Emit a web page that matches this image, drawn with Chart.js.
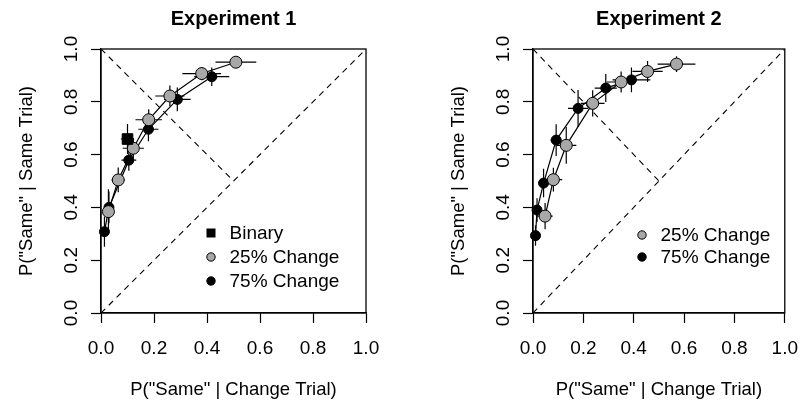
<!DOCTYPE html>
<html>
<head>
<meta charset="utf-8">
<script src="https://cdn.jsdelivr.net/npm/chart.js@4.4.1/dist/chart.umd.min.js"></script>
<style>
  html, body { margin: 0; padding: 0; background: #fff; }
  #wrap { position: relative; width: 812px; height: 408px; }
  canvas { position: absolute; top: 0; }
</style>
</head>
<body>
<div id="wrap">
  <canvas id="exp1" width="406" height="408" style="left:0"></canvas>
  <canvas id="exp2" width="406" height="408" style="left:406px"></canvas>
</div>
<script>
const tickVals = [0, 0.2, 0.4, 0.6, 0.8, 1.0];
const xTitle = 'P("Same" | Change Trial)';
const yTitle = 'P("Same" | Same Trial)';
const titles = ['Experiment 1', 'Experiment 2'];
const names = ['Binary', '25% Change', '75% Change'];

// Experiment 1
const e1BinX = [0.100];
const e1BinY = [0.659];
const e1BinXe = [0.025];
const e1BinYe = [0.057];

const e1C25X = [0.028, 0.065, 0.122, 0.180, 0.260, 0.380, 0.509];
const e1C25Y = [0.384, 0.504, 0.624, 0.732, 0.822, 0.907, 0.950];
const e1C25Xe = [0.017, 0.025, 0.040, 0.050, 0.055, 0.073, 0.077];
const e1C25Ye = [0.085, 0.047, 0.038, 0.040, 0.040, 0.025, 0.015];

const e1C75X = [0.013, 0.030, 0.105, 0.179, 0.288, 0.418];
const e1C75Y = [0.308, 0.400, 0.579, 0.696, 0.809, 0.895];
const e1C75Xe = [0.010, 0.015, 0.028, 0.038, 0.050, 0.066];
const e1C75Ye = [0.057, 0.060, 0.040, 0.045, 0.045, 0.035];

// Experiment 2
const e2C25X = [0.048, 0.081, 0.132, 0.237, 0.350, 0.455, 0.570];
const e2C25Y = [0.367, 0.505, 0.635, 0.794, 0.875, 0.915, 0.943];
const e2C25Xe = [0.030, 0.035, 0.040, 0.047, 0.057, 0.060, 0.075];
const e2C25Ye = [0.050, 0.045, 0.070, 0.050, 0.040, 0.040, 0.030];

const e2C75X = [0.010, 0.016, 0.042, 0.092, 0.179, 0.289, 0.391];
const e2C75Y = [0.293, 0.390, 0.492, 0.655, 0.775, 0.852, 0.883];
const e2C75Xe = [0.010, 0.015, 0.016, 0.022, 0.040, 0.044, 0.075];
const e2C75Ye = [0.038, 0.045, 0.054, 0.060, 0.070, 0.053, 0.047];

// reference lines
const diagUp = [[0, 0], [1, 1]];
const diagDown = [[0, 1], [0.5, 0.5]];

const FONT = '"Liberation Sans", Arial, Helvetica, sans-serif';
const GRAY = '#a8a8a8';

function pts(xs, ys) {
  return xs.map((x, i) => ({ x: x, y: ys[i] }));
}

function series(label, xs, ys, xe, ye, kind) {
  const ds = {
    label: label,
    data: pts(xs, ys),
    errX: xe, errY: ye,
    kind: kind,
    showLine: xs.length > 1,
    borderColor: '#000',
    borderWidth: 1.2,
    pointBorderColor: '#000',
    pointBorderWidth: 1,
    clip: false
  };
  if (kind === 'rect') {
    ds.pointStyle = 'rect'; ds.pointRadius = 7.5; ds.pointBackgroundColor = '#000';
  } else if (kind === 'gray') {
    ds.pointStyle = 'circle'; ds.pointRadius = 6; ds.pointBackgroundColor = GRAY;
  } else {
    ds.pointStyle = 'circle'; ds.pointRadius = 5; ds.pointBackgroundColor = '#000';
  }
  ds.pointHoverRadius = ds.pointRadius;
  return ds;
}

function refLine(p) {
  return {
    data: p.map(q => ({ x: q[0], y: q[1] })),
    showLine: true, pointRadius: 0, borderColor: '#000', borderWidth: 1.1,
    borderDash: [6, 5], ref: true
  };
}

const framePlugin = {
  id: 'frame',
  beforeDatasetsDraw(chart) {
    const { ctx, chartArea: a } = chart;
    ctx.save();
    ctx.strokeStyle = '#000';
    ctx.lineWidth = 1.3;
    ctx.strokeRect(a.left, a.top, a.right - a.left, a.bottom - a.top);
    ctx.restore();
  }
};

const errPlugin = {
  id: 'errBars',
  beforeDatasetsDraw(chart) {
    const { ctx, scales: { x, y } } = chart;
    ctx.save();
    ctx.strokeStyle = '#000';
    ctx.lineWidth = 1.2;
    chart.data.datasets.forEach(ds => {
      if (!ds.errX) return;
      ds.data.forEach((p, i) => {
        const px = x.getPixelForValue(p.x), py = y.getPixelForValue(p.y);
        ctx.beginPath();
        ctx.moveTo(x.getPixelForValue(p.x - ds.errX[i]), py);
        ctx.lineTo(x.getPixelForValue(p.x + ds.errX[i]), py);
        ctx.moveTo(px, y.getPixelForValue(p.y - ds.errY[i]));
        ctx.lineTo(px, y.getPixelForValue(p.y + ds.errY[i]));
        ctx.stroke();
      });
    });
    ctx.restore();
  }
};

const legendPlugin = {
  id: 'boxLegend',
  afterDraw(chart, args, opts) {
    const { ctx, chartArea: a } = chart;
    const items = chart.data.datasets.filter(d => d.label);
    ctx.save();
    ctx.font = '19px ' + FONT;
    ctx.textBaseline = 'middle';
    ctx.fillStyle = '#000';
    items.forEach((d, i) => {
      const mx = a.left + opts.dx, my = a.top + opts.dy + i * opts.gap;
      ctx.beginPath();
      if (d.kind === 'rect') {
        ctx.fillStyle = '#000';
        ctx.fillRect(mx - 4.5, my - 4.5, 9, 9);
      } else {
        ctx.arc(mx, my, 4.2, 0, Math.PI * 2);
        ctx.fillStyle = d.kind === 'gray' ? GRAY : '#000';
        ctx.fill();
        ctx.lineWidth = 1;
        ctx.strokeStyle = '#000';
        ctx.stroke();
      }
      ctx.fillStyle = '#000';
      ctx.fillText(d.label, mx + 18.5, my + 1);
    });
    ctx.restore();
  }
};

function axis(isX) {
  const ax = {
    type: 'linear', min: 0, max: 1,
    afterBuildTicks: s => { s.ticks = tickVals.map(v => ({ value: v })); },
    grid: { drawOnChartArea: false, drawTicks: true, tickLength: 10, tickColor: '#000', tickWidth: 1.2 },
    border: { display: true, color: '#000', width: 1.3 },
    ticks: {
      color: '#000', font: { family: FONT, size: 19 },
      callback: v => v.toFixed(1)
    },
    title: { display: true, text: isX ? xTitle : yTitle, color: '#000', font: { family: FONT, size: 18.5 } }
  };
  if (isX) {
    ax.afterFit = s => { s.height = 95; };
    ax.ticks.padding = 14;
    ax.ticks.maxRotation = 0;
    ax.title.padding = { top: 0, bottom: 7 };
  } else {
    ax.afterFit = s => { s.width = 101; };
    ax.ticks.minRotation = 90;
    ax.ticks.maxRotation = 90;
    ax.ticks.crossAlign = 'center';
    ax.ticks.padding = 6;
    ax.title.padding = { top: 16, bottom: 0 };
  }
  return ax;
}

function makeChart(id, title, datasets, padL, padR, leg) {
  return new Chart(document.getElementById(id), {
    type: 'scatter',
    data: { datasets: datasets },
    plugins: [framePlugin, errPlugin, legendPlugin],
    options: {
      responsive: false,
      animation: false,
      devicePixelRatio: 1,
      layout: { padding: { left: padL, right: padR, top: 0, bottom: 0 } },
      scales: { x: axis(true), y: axis(false) },
      plugins: {
        legend: { display: false },
        tooltip: { enabled: false },
        title: {
          display: true, text: title, fullSize: false, color: '#000',
          font: { family: FONT, size: 20, weight: 'bold' },
          padding: { top: 7, bottom: 18 }
        },
        boxLegend: leg
      }
    }
  });
}

makeChart('exp1', titles[0], [
  refLine(diagUp), refLine(diagDown),
  series(names[0], e1BinX, e1BinY, e1BinXe, e1BinYe, 'rect'),
  series(names[1], e1C25X, e1C25Y, e1C25Xe, e1C25Ye, 'gray'),
  series(names[2], e1C75X, e1C75Y, e1C75Xe, e1C75Ye, 'black')
], 0, 40, { dx: 110, dy: 184, gap: 24 });

makeChart('exp2', titles[1], [
  refLine(diagUp), refLine(diagDown),
  series(names[1], e2C25X, e2C25Y, e2C25Xe, e2C25Ye, 'gray'),
  series(names[2], e2C75X, e2C75Y, e2C75Xe, e2C75Ye, 'black')
], 26, 15, { dx: 109, dy: 186, gap: 22 });
</script>
</body>
</html>
